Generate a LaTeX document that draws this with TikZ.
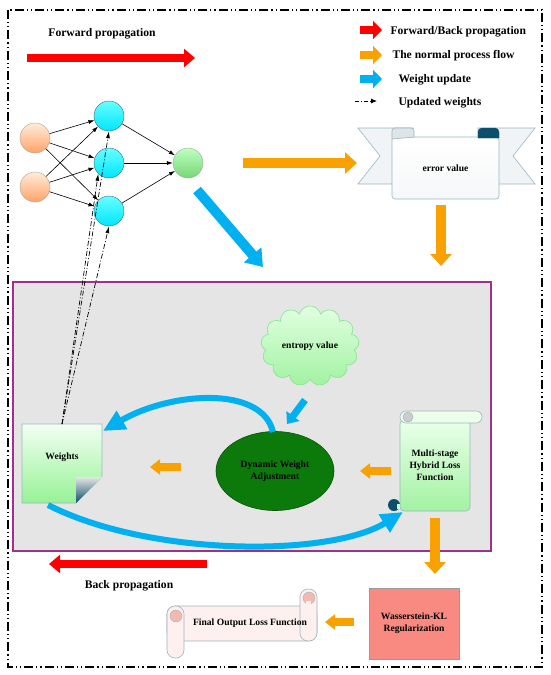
\documentclass[tikz,border=0pt]{standalone}
\usepackage{fontspec}
\setmainfont{Liberation Serif}
\usetikzlibrary{arrows.meta,shapes.geometric,shapes.symbols,calc}
\definecolor{redA}{HTML}{FF0000}
\definecolor{orA}{HTML}{F9A100}
\definecolor{blA}{HTML}{00B0F0}
\definecolor{boxgray}{HTML}{E5E5E5}
\definecolor{purp}{HTML}{A0308A}
\definecolor{dgreen}{HTML}{0B7A0B}
\definecolor{teal}{HTML}{0B4F6C}
\definecolor{rib}{HTML}{9DB5C0}
\definecolor{salmon}{HTML}{F88A82}
\definecolor{lpink}{HTML}{FDF0EE}
\definecolor{pcurl}{HTML}{F4B8B0}
\tikzset{
  redarr/.style={redA, line width=8pt, -{Triangle[width=18pt,length=11pt]}},
  orarr/.style={orA, line width=10pt, -{Triangle[width=21pt,length=12pt]}},
  orsmall/.style={orA, line width=8pt, -{Triangle[width=15pt,length=10pt]}},
  blarr/.style={blA, line width=10pt, -{Triangle[width=22pt,length=16pt]}},
  blsmall/.style={blA, line width=7pt, -{Triangle[width=16pt,length=10pt]}},
  blcurve/.style={blA, line width=6pt, -{Triangle[width=20pt,length=22pt]}},
  legred/.style={redA, line width=8pt, -{Triangle[width=18pt,length=9pt]}},
  legor/.style={orA, line width=8pt, -{Triangle[width=18pt,length=9pt]}},
  legbl/.style={blA, line width=8pt, -{Triangle[width=18pt,length=9pt]}},
  neuron/.style={circle, minimum size=30pt, inner sep=0pt},
  inp/.style={neuron, top color=orange!15!white, bottom color=orange!45!pink, draw=gray!70},
  hid/.style={neuron, top color=cyan!60!white, bottom color=cyan!90!blue, draw=teal!50!gray},
  outn/.style={neuron, top color=green!25!white, bottom color=green!55!gray!70!white, draw=gray!70},
  nnedge/.style={black, line width=0.6pt, -{Latex[length=6pt,width=4pt]}},
  ddline/.style={black, line width=0.7pt, dash pattern=on 5pt off 2pt on 1pt off 2pt, -{Latex[length=7pt,width=4pt]}},
  lbl/.style={font=\bfseries\fontsize{11.6}{13}\selectfont},
  small/.style={font=\bfseries\fontsize{9.6}{12}\selectfont, align=center},
}
\begin{document}
\begin{tikzpicture}[x=1pt,y=-1pt]
\useasboundingbox (0,0) rectangle (550,675);
\fill[white] (0,0) rectangle (550,675);
% outer border
\draw[line width=1.3pt, dash pattern=on 9pt off 3pt on 1.2pt off 3pt on 1.2pt off 3pt] (8,10) rectangle (542,667);
% gray box
\draw[fill=boxgray, draw=purp, line width=1.5pt] (13,282) rectangle (491,551);

% forward propagation
\node[lbl] (fp) at (102,34) {Forward propagation};
\coordinate (fpa) at (27,58); \coordinate (fpb) at (195,58);
\draw[redarr] (fpa) -- (fpb);

% legend
\coordinate (l1a) at (360,30); \coordinate (l1b) at (382,30);
\coordinate (l2a) at (360,55); \coordinate (l2b) at (382,55);
\coordinate (l3a) at (360,79); \coordinate (l3b) at (382,79);
\coordinate (l4a) at (355,101); \coordinate (l4b) at (377,101);
\draw[legred] (l1a) -- (l1b);
\draw[legor] (l2a) -- (l2b);
\draw[legbl] (l3a) -- (l3b);
\draw[black, line width=0.8pt, dash pattern=on 4pt off 2pt on 1pt off 2pt, -{Latex[length=6pt,width=5pt]}] (l4a) -- (l4b);
\node[lbl, anchor=west] (t1) at (387,32) {Forward/Back propagation};
\node[lbl, anchor=west] (t2) at (389,56) {The normal process flow};
\node[lbl, anchor=west] (t3) at (395,80) {Weight update};
\node[lbl, anchor=west] (t4) at (395,103) {Updated weights};

% neural network
\node[inp] (i1) at (35,138) {};
\node[inp] (i2) at (35,187) {};
\node[hid] (h1) at (109,116) {};
\node[hid] (h2) at (109,163) {};
\node[hid] (h3) at (109,211) {};
\node[outn] (o) at (188,163) {};
\foreach \a in {i1,i2} \foreach \b in {h1,h2,h3} \draw[nnedge] (\a) -- (\b);
\foreach \b in {h1,h2,h3} \draw[nnedge] (\b) -- (o);

% orange arrow to error value
\coordinate (oa) at (243,163); \coordinate (ob) at (357,163);
\draw[orarr] (oa) -- (ob);

% error value ribbon
\draw[fill=rib!15!white, draw=rib, line width=0.6pt] (358,128) -- (413,128) -- (413,184) -- (358,184) -- (380,156) -- cycle;
\draw[fill=rib!15!white, draw=rib, line width=0.6pt] (535,128) -- (478,128) -- (478,184) -- (535,184) -- (513,156) -- cycle;
\node[draw=rib, line width=0.6pt, rounded corners=3pt, top color=white, bottom color=rib!10!white, minimum width=107pt, minimum height=62pt, small] (err) at (445.5,168) {error value};
\draw[fill=rib!35!white, draw=rib, line width=0.6pt] (392,139) -- (392,131) arc[start angle=180, end angle=90, radius=3pt] -- (411,128) arc[start angle=90, end angle=0, radius=3pt] -- (414,137) -- cycle;
\draw[fill=teal, draw=teal] (478,138) -- (478,132) arc[start angle=180, end angle=90, radius=4pt] -- (495,128) arc[start angle=90, end angle=0, radius=4pt] -- (499,138) -- cycle;

% orange down arrow
\coordinate (da) at (441,205); \coordinate (db) at (441,266);
\draw[orarr] (da) -- (db);

% blue diagonal arrow
\coordinate (ba) at (197,190); \coordinate (bb) at (263,267);
\draw[blarr] (ba) -- (bb);

% weights page
\node[minimum width=80pt, minimum height=79pt, inner sep=0pt] (w) at (62,463.5) {};
\shade[top color=green!5!white, bottom color=green!40!white!90!gray] (22,424) -- (102,424) -- (102,477) -- (76,503) -- (22,503) -- cycle;
\draw[rib, line width=0.6pt] (22,424) -- (102,424) -- (102,477) -- (76,503) -- (22,503) -- cycle;
\shade[top color=gray!20!white, bottom color=teal] (76,477) -- (102,477) -- (76,503) -- cycle;
\node[small] (wt) at (62,457) {Weights};

% dynamic weight adjustment
\node[ellipse, fill=dgreen, draw=dgreen!70!black, line width=0.6pt, minimum width=118pt, minimum height=79pt, small, inner sep=0pt] (dwa) at (275,471) {Dynamic Weight\\Adjustment};

% entropy cloud
\node[cloud, cloud puffs=13, aspect=1.35, minimum width=95pt, minimum height=72pt, top color=green!12!white, bottom color=green!35!white!90!gray, draw=teal!30!green!50!white, line width=0.6pt, small] (ent) at (310,346) {entropy value};

% blue small arrow from cloud
\coordinate (ca) at (305,400); \coordinate (cb) at (287,424);
\draw[blsmall] (ca) -- (cb);

% multi-stage scroll
\node[draw=rib, line width=0.6pt, rounded corners=4pt, top color=green!8!white, bottom color=green!35!white!90!gray, minimum width=70pt, minimum height=91pt, small] (mhl) at (435,465.5) {Multi-stage\\Hybrid Loss\\Function};
\draw[fill=green!8!white, draw=rib, line width=0.6pt, rounded corners=6pt] (400,411) rectangle (482,423);
\filldraw[fill=gray!40, draw=rib, line width=0.5pt] (408,417) circle[radius=5pt];
\fill[teal] (394,505) circle[radius=6pt];
\fill[green!20!white] (397,504) rectangle (400,509);

% blue curves
\coordinate (wne) at (103,431);
\coordinate (wbot) at (48,505);
\coordinate (mbl) at (403,512);
\draw[blcurve] (273,432) .. controls (262,385) and (170,392) .. (wne);
\draw[blcurve] (wbot) .. controls (150,557) and (330,557) .. (mbl);

% small orange arrows
\coordinate (s1a) at (181,467); \coordinate (s1b) at (150,467);
\coordinate (s2a) at (391,471); \coordinate (s2b) at (360,471);
\draw[orsmall] (s1a) -- (s1b);
\draw[orsmall] (s2a) -- (s2b);

% dash-dot lines from weights
\coordinate (wtop) at (62,424);
\draw[ddline] (wtop) -- (h1.south);
\draw[ddline] (wtop) -- (h2.south west);
\draw[ddline] (wtop) -- (h3.south);

% orange down from multi-stage
\coordinate (ma) at (435,518); \coordinate (mb) at (435,574);
\draw[orarr] (ma) -- (mb);

% back propagation
\coordinate (ra) at (207,564); \coordinate (rb) at (49,564);
\draw[redarr] (ra) -- (rb);
\node[lbl] (bp) at (129,586) {Back propagation};

% Wasserstein-KL
\node[draw=gray!80, fill=salmon, line width=0.6pt, minimum width=90pt, minimum height=71pt, small] (wkl) at (414,623.5) {Wasserstein-KL\\Regularization};

% orange to final
\coordinate (fa) at (354,622); \coordinate (fb) at (325,622);
\draw[orsmall] (fa) -- (fb);

% final output scroll
\node[draw=rib, line width=0.6pt, rounded corners=8pt, fill=lpink, minimum width=150pt, minimum height=35pt, inner sep=0pt] (fol) at (242,623.5) {};
\draw[fill=lpink, draw=rib, line width=0.6pt, rounded corners=8pt] (167,606) rectangle (184,658);
\draw[fill=lpink, draw=rib, line width=0.6pt, rounded corners=8pt] (300,589) rectangle (317,641);
\filldraw[fill=pcurl, draw=rib, line width=0.4pt] (176,616) circle[radius=6pt];
\filldraw[fill=pcurl, draw=rib, line width=0.4pt] (309,598) circle[radius=6pt];
\fill[lpink] (306,601) rectangle (311,606);
\node[small] (folt) at (250,623) {Final Output Loss Function};
\end{tikzpicture}
\end{document}
